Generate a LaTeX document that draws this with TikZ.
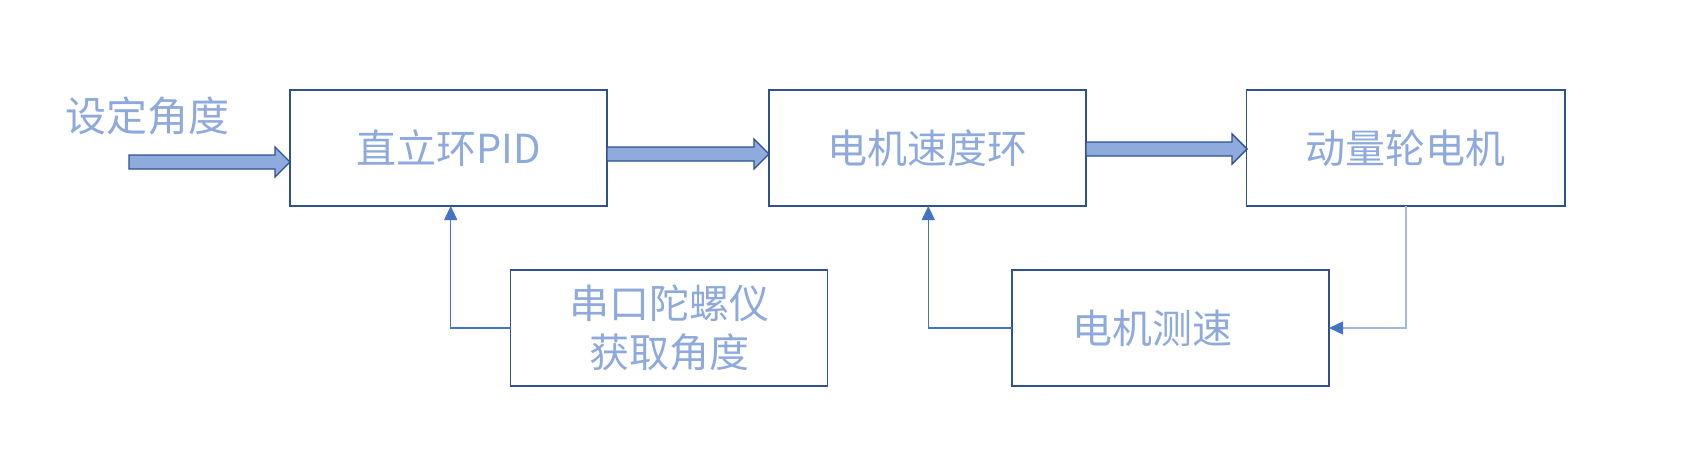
\documentclass[tikz,border=0pt]{standalone}
\usepackage{fontspec}
\setmainfont{Noto Sans CJK SC}
\usetikzlibrary{arrows.meta,calc}
\definecolor{boxblue}{HTML}{2F528F}
\definecolor{txtblue}{HTML}{8EA9DB}
\definecolor{fillblue}{HTML}{8FAADC}
\definecolor{lineblue}{HTML}{4472C4}
\definecolor{palelineblue}{HTML}{A3B9E2}
\tikzset{
  blk/.style={draw=boxblue, line width=1.6pt, outer sep=0pt, inner sep=0pt,
    minimum width=317pt, minimum height=116pt, text=txtblue,
    font=\fontsize{40}{49.5}\selectfont, align=center},
  fatarrow/.style={fill=fillblue, draw=boxblue, line width=1.4pt, line join=miter},
  fb/.style={draw=lineblue, line width=1.2pt,
    -{Triangle[length=14pt,width=13pt,fill=lineblue,color=lineblue]}},
  fbpale/.style={fb, draw=palelineblue}
}
\newcommand{\fatarr}[3]{%
  \filldraw[fatarrow] (#1,#3-7) -- (#2-15,#3-7) -- (#2-15,#3-15) -- (#2,#3)
    -- (#2-15,#3+15) -- (#2-15,#3+7) -- (#1,#3+7) -- cycle;}
\begin{document}
\begin{tikzpicture}[x=1pt,y=-1pt]
\useasboundingbox (0,0) rectangle (1706,460);
\node[blk] (b1) at (448.5,148) {\raisebox{-4pt}{直立环PID}};
\node[blk] (b2) at (927.5,148) {\raisebox{-4pt}{电机速度环}};
\node[blk, minimum width=318.5pt] (b3) at (1405.75,148) {\raisebox{-4pt}{动量轮电机}};
\node[blk] (b4) at (669,328) {\raisebox{-3pt}{串口陀螺仪}\\\raisebox{-3pt}{获取角度}};
\node[blk] (b5) at (1170.5,328) {电机测速\hspace*{36pt}};
\node[text=txtblue, font=\fontsize{41}{48}\selectfont, inner sep=0pt] (lab) at (147.5,116) {设定角度};
% fat arrows
\fatarr{129}{290}{162}
\fatarr{607}{769}{154}
\fatarr{1086}{1247}{149}
% feedback
\draw[fb] (b4.west) -| ([xshift=2.2pt]b1.south);
\draw[fb] (b5.west) -| ([xshift=0.8pt]b2.south);
\draw[fbpale] ([xshift=0.25pt]b3.south) |- (b5.east);
\end{tikzpicture}
\end{document}
